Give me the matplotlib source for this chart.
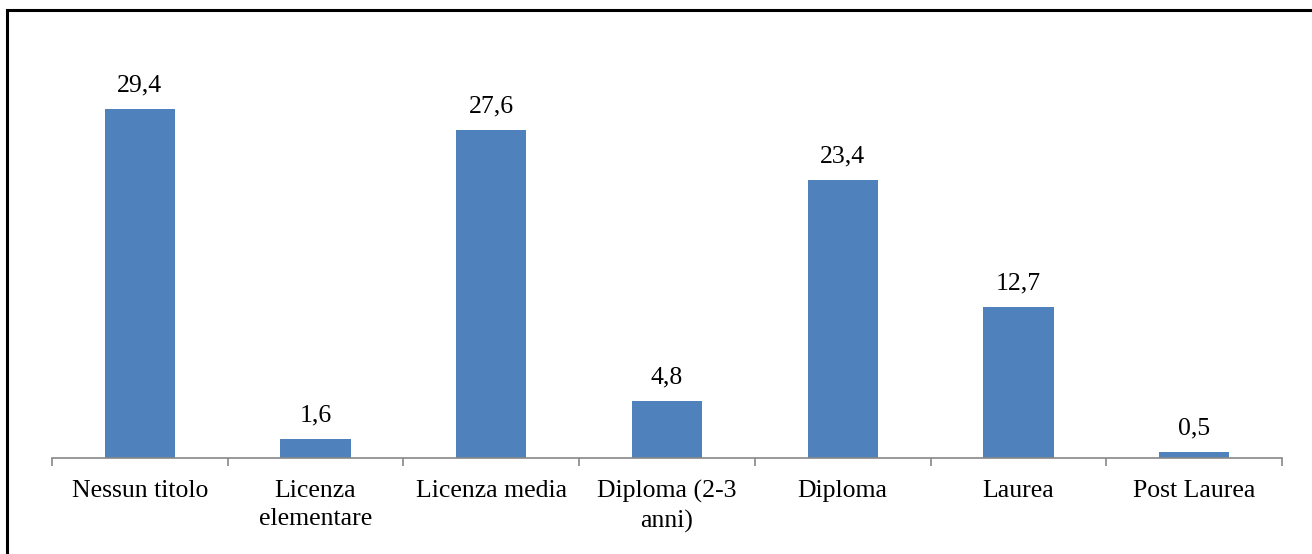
import numpy as np
import matplotlib.pyplot as plt
from matplotlib.patches import Rectangle

categorie = ["Nessun titolo", "Licenza\nelementare", "Licenza media", "Diploma (2-3\nanni)",
             "Diploma", "Laurea", "Post Laurea"]
valori = [29.4, 1.6, 27.6, 4.8, 23.4, 12.7, 0.5]

plt.rcParams['font.family'] = ['Liberation Serif', 'DejaVu Serif']

fig = plt.figure(figsize=(13.12, 5.54), dpi=100)
W, H = 1312, 554

# cornice nera del grafico (tagliata a destra e in basso)
fig.patches.append(Rectangle((7 / W, -0.1), 1.2, 1 - 10 / H + 0.1, transform=fig.transFigure,
                             fill=False, edgecolor="black", linewidth=2.2))

ax = fig.add_axes([52 / W, (H - 458) / H, (1282 - 52) / W, (458 - 42) / H])
x = np.arange(len(categorie))
ax.bar(x, valori, width=0.4, color="#4f81bd")

for xi, v in zip(x, valori):
    ax.annotate(f"{v:.1f}".replace(".", ","), (xi, v), xytext=(0, 9), textcoords="offset points",
                ha="center", va="bottom", fontsize=18.5)

ax.set_xlim(-0.5, len(categorie) - 0.5)
ax.set_ylim(0, 35)
ax.set_xticks(x)
ax.set_xticklabels(categorie, fontsize=18.5, linespacing=1.35, va="top")
ax.tick_params(axis="x", which="major", length=0, pad=16)
ax.set_xticks(np.arange(len(categorie) + 1) - 0.5, minor=True)
ax.tick_params(axis="x", which="minor", length=6, color="#888888", width=1.2)
ax.set_yticks([])
for s in ["top", "right", "left"]:
    ax.spines[s].set_visible(False)
ax.spines["bottom"].set_color("#888888")
ax.spines["bottom"].set_linewidth(1.2)

fig.savefig("out.png", dpi=100)
